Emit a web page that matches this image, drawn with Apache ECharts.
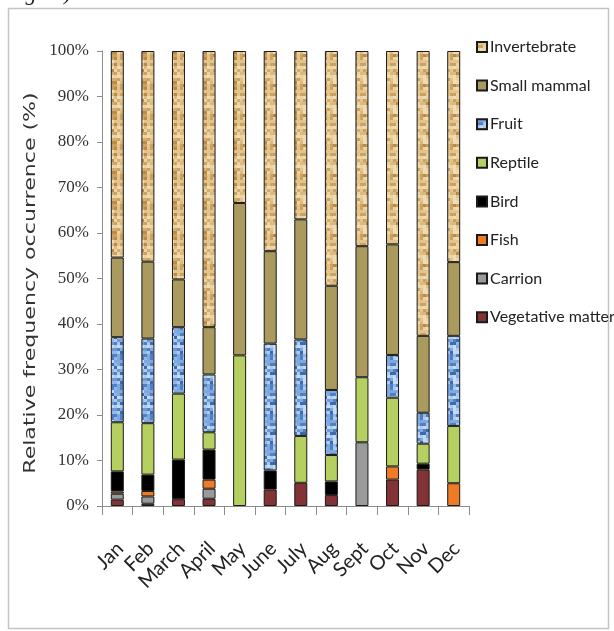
<!DOCTYPE html>
<html>
<head>
<meta charset="utf-8">
<script src="https://cdn.jsdelivr.net/npm/echarts@6/dist/echarts.min.js"></script>
<style>
  html, body { margin: 0; padding: 0; background: #fff; }
  #chart { width: 614px; height: 631px; }
</style>
</head>
<body>
<div id="chart"></div>
<script>
// Monthly diet composition (% of relative frequency of occurrence)
const months = ['Jan', 'Feb', 'March', 'April', 'May', 'June', 'July', 'Aug', 'Sept', 'Oct', 'Nov', 'Dec'];
const vegetativeMatter = [1.4, 0.5, 1.5, 1.6, 0, 3.6, 5.1, 2.4, 0, 5.8, 8.0, 0];
const carrion          = [1.3, 1.6, 0, 2.2, 0, 0, 0, 0, 14.0, 0, 0, 0];
const fish             = [0.5, 1.2, 0, 2.0, 0, 0, 0, 0, 0, 2.9, 0, 5.0];
const bird             = [4.4, 3.6, 8.7, 6.6, 0, 4.2, 0, 3.0, 0, 0, 1.3, 0];
const reptile          = [10.8, 11.3, 14.5, 3.8, 33.1, 0, 10.3, 5.8, 14.3, 15.1, 4.4, 12.6];
const fruit            = [18.7, 18.6, 14.6, 12.7, 0, 27.9, 21.2, 14.3, 0, 9.4, 6.8, 19.8];
const smallMammal      = [17.5, 16.9, 10.5, 10.4, 33.5, 20.3, 26.4, 22.9, 28.8, 24.3, 16.9, 16.2];
const invertebrate     = [45.4, 46.3, 50.2, 60.7, 33.4, 44.0, 37.0, 51.6, 42.9, 42.5, 62.6, 46.4];
const yTicks = [0, 10, 20, 30, 40, 50, 60, 70, 80, 90, 100];

// Small repeating textures for the two patterned categories
function makeTexture(size, cell, shades) {
  const c = document.createElement('canvas');
  c.width = size; c.height = size;
  const g = c.getContext('2d');
  for (let y = 0; y < size; y += cell) {
    for (let x = 0; x < size; x += cell) {
      const h = ((x * 73856093) ^ (y * 19349663) ^ ((x + y) * 83492791)) >>> 0;
      g.fillStyle = shades[h % shades.length];
      g.fillRect(x, y, cell, cell);
    }
  }
  return c;
}
const invertebrateTex = makeTexture(30, 3, ['#e2c48c', '#cca263', '#ebd3a2', '#b98a48', '#dcb97c', '#efdcb2', '#d4ad70']);
const fruitTex = makeTexture(30, 3, ['#7fa8de', '#4f80c4', '#aecbee', '#93b8e6', '#3a6bb2', '#c6dbf3', '#6e9ad4']);

const layers = [
  { name: 'Vegetative matter', data: vegetativeMatter, color: '#833236' },
  { name: 'Carrion', data: carrion, color: '#9a9a9a' },
  { name: 'Fish', data: fish, color: '#f07b27' },
  { name: 'Bird', data: bird, color: '#000000' },
  { name: 'Reptile', data: reptile, color: '#b5d061' },
  { name: 'Fruit', data: fruit, color: { image: fruitTex, repeat: 'repeat' } },
  { name: 'Small mammal', data: smallMammal, color: '#aa9a5d' },
  { name: 'Invertebrate', data: invertebrate, color: { image: invertebrateTex, repeat: 'repeat' } }
];

const chart = echarts.init(document.getElementById('chart'), null, { renderer: 'canvas' });

chart.setOption({
  animation: false,
  backgroundColor: '#ffffff',
  graphic: [
    {
      type: 'rect',
      shape: { x: 8.5, y: 8.5, width: 600, height: 620 },
      style: { fill: 'none', stroke: '#c4c4c4', lineWidth: 1.5 },
      silent: true
    },
    {
      type: 'text',
      left: 6,
      top: -17,
      style: { text: 'Fig 10)', font: 'italic 22px "Liberation Serif"', fill: '#222' },
      silent: true
    },
    {
      // vertical axis title, stretched along its length
      type: 'text',
      x: 31,
      y: 283,
      rotation: Math.PI / 2,
      scaleX: 1.38,
      style: {
        text: 'Relative frequency occurrence (%)',
        font: '16px "DejaVu Sans"',
        fill: '#333',
        align: 'center',
        verticalAlign: 'middle'
      },
      silent: true
    }
  ],
  legend: {
    orient: 'vertical',
    left: 471,
    top: 33,
    itemWidth: 10,
    itemHeight: 10,
    itemGap: 20.6,
    icon: 'rect',
    data: layers.map(l => l.name).reverse(),
    textStyle: { fontFamily: 'Lato', fontSize: 16, color: '#222', lineHeight: 18, padding: [0, 0, 0, -2] }
  },
  grid: { left: 102, top: 51, right: 145, bottom: 125, containLabel: false },
  xAxis: {
    type: 'category',
    data: months,
    axisLine: { lineStyle: { color: '#8c8c8c', width: 1 } },
    axisTick: { show: true, length: 9, lineStyle: { color: '#8c8c8c' } },
    axisLabel: {
      interval: 0,
      rotate: 45,
      margin: 28,
      verticalAlign: 'top',
      padding: [0, 6, 0, 0],
      fontFamily: 'Lato',
      fontSize: 20,
      color: '#222'
    }
  },
  yAxis: {
    type: 'value',
    min: yTicks[0],
    max: yTicks[yTicks.length - 1],
    interval: 10,
    axisLine: { show: true, lineStyle: { color: '#8c8c8c', width: 1 } },
    axisTick: { show: true, length: 5, lineStyle: { color: '#8c8c8c' } },
    splitLine: { show: false },
    axisLabel: {
      formatter: '{value}%',
      margin: 13,
      fontFamily: 'Liberation Serif',
      fontSize: 17,
      color: '#333'
    }
  },
  series: layers.map(l => ({
    name: l.name,
    type: 'bar',
    stack: 'diet',
    barWidth: 13,
    data: l.data.map(v => (v === 0 ? null : v)),
    itemStyle: { color: l.color, borderColor: '#1a1a1a', borderWidth: 1 }
  }))
});
</script>
</body>
</html>
